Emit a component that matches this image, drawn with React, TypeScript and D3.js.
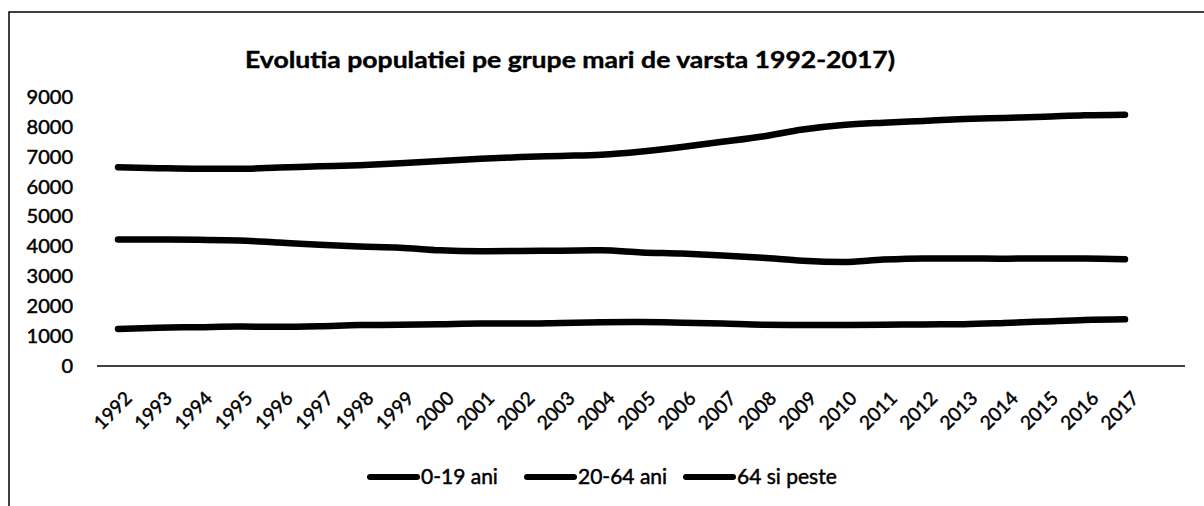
import React, { Component } from "react";
import * as d3 from "d3";

const years = [
  "1992", "1993", "1994", "1995", "1996", "1997", "1998", "1999", "2000",
  "2001", "2002", "2003", "2004", "2005", "2006", "2007", "2008", "2009",
  "2010", "2011", "2012", "2013", "2014", "2015", "2016", "2017",
];

const seriesNames = ["0-19 ani", "20-64 ani", "64 si peste"];

const grupa0_19 = [
  4230, 4230, 4220, 4200, 4130, 4060, 4000, 3960, 3870, 3840, 3850, 3860, 3870,
  3800, 3760, 3700, 3620, 3520, 3480, 3560, 3600, 3600, 3590, 3600, 3600, 3570,
];

const grupa20_64 = [
  6650, 6620, 6600, 6600, 6640, 6680, 6720, 6780, 6860, 6930, 6990, 7030, 7070,
  7180, 7330, 7500, 7680, 7910, 8060, 8140, 8200, 8260, 8300, 8340, 8390, 8410,
];

const grupa64plus = [
  1240, 1280, 1300, 1320, 1310, 1330, 1370, 1380, 1400, 1420, 1420, 1440, 1460,
  1470, 1450, 1420, 1380, 1370, 1370, 1380, 1390, 1400, 1440, 1490, 1540, 1560,
];

const yTicks = [0, 1000, 2000, 3000, 4000, 5000, 6000, 7000, 8000, 9000];

const title = "Evolutia populatiei pe grupe mari de varsta 1992-2017)";

class App extends Component {
  svgRef = React.createRef<SVGSVGElement>();

  componentDidMount() {
    this.drawChart();
  }

  componentDidUpdate() {
    this.drawChart();
  }

  drawChart() {
    const font = "Lato, 'Open Sans', sans-serif";
    const W = 1204,
      H = 506;

    const root = d3.select(this.svgRef.current);
    root.selectAll("*").remove();
    root.attr("width", W).attr("height", H);

    root.append("rect").attr("width", W).attr("height", H).attr("fill", "#fff");

    // scanned page border
    root
      .append("path")
      .attr("d", `M9,506 L9,12 L1204,12`)
      .attr("fill", "none")
      .attr("stroke", "#000")
      .attr("stroke-width", 1.5);

    const x = d3.scalePoint().domain(years).range([118, 1125]);
    const y = d3.scaleLinear().domain([0, 9000]).range([366, 97]);

    // title
    root
      .append("text")
      .attr("x", 245)
      .attr("y", 68)
      .attr("font-family", font)
      .attr("font-weight", "bold")
      .attr("font-size", 22)
      .attr("textLength", 650)
      .attr("lengthAdjust", "spacingAndGlyphs")
      .attr("fill", "#000")
      .attr("stroke", "#000")
      .attr("stroke-width", 0.4)
      .text(title);

    // y axis
    const yAxis = root
      .append("g")
      .attr("transform", "translate(97,0)")
      .call(d3.axisLeft(y).tickValues(yTicks).tickSize(0).tickPadding(24).tickFormat(d3.format("d")));
    yAxis.select(".domain").remove();
    yAxis
      .selectAll("text")
      .attr("font-family", font)
      .attr("font-size", 20)
      .attr("fill", "#000")
      .attr("stroke", "#000")
      .attr("stroke-width", 0.5);

    // x axis line
    root
      .append("line")
      .attr("x1", 97)
      .attr("x2", 1185)
      .attr("y1", y(0))
      .attr("y2", y(0))
      .attr("stroke", "#000")
      .attr("stroke-width", 1.5);

    const xAxis = root
      .append("g")
      .attr("transform", `translate(0,${y(0)})`)
      .call(d3.axisBottom(x).tickSize(0));
    xAxis.select(".domain").remove();
    xAxis
      .selectAll("text")
      .attr("font-family", font)
      .attr("font-size", 19)
      .attr("fill", "#000")
      .attr("stroke", "#000")
      .attr("stroke-width", 0.5)
      .attr("text-anchor", "end")
      .attr("x", 0)
      .attr("y", 0)
      .attr("dy", "0.71em")
      .attr("transform", "translate(5,24) rotate(-45)");

    // lines
    const data = [grupa0_19, grupa20_64, grupa64plus];
    const line = d3
      .line<number>()
      .x((d, i) => x(years[i]) as number)
      .y((d) => y(d))
      .curve(d3.curveMonotoneX);

    root
      .append("g")
      .selectAll("path")
      .data(data)
      .join("path")
      .attr("d", (d) => line(d))
      .attr("fill", "none")
      .attr("stroke", "#000")
      .attr("stroke-width", 6.5)
      .attr("stroke-linecap", "round")
      .attr("stroke-linejoin", "round");

    // legend
    const legendX = [370, 527, 686];
    const legend = root
      .append("g")
      .selectAll("g")
      .data(seriesNames)
      .join("g")
      .attr("transform", (d, i) => `translate(${legendX[i]},477)`);
    legend
      .append("line")
      .attr("x1", 0)
      .attr("x2", 47)
      .attr("stroke", "#000")
      .attr("stroke-width", 6)
      .attr("stroke-linecap", "round");
    legend
      .append("text")
      .attr("x", 51)
      .attr("dy", "0.35em")
      .attr("font-family", font)
      .attr("font-size", 21)
      .attr("fill", "#000")
      .attr("stroke", "#000")
      .attr("stroke-width", 0.5)
      .text((d) => d);
  }

  render() {
    return (
      <svg
        ref={this.svgRef}
        style={{ position: "absolute", left: 0, top: 0, display: "block" }}
      ></svg>
    );
  }
}

export default App;
